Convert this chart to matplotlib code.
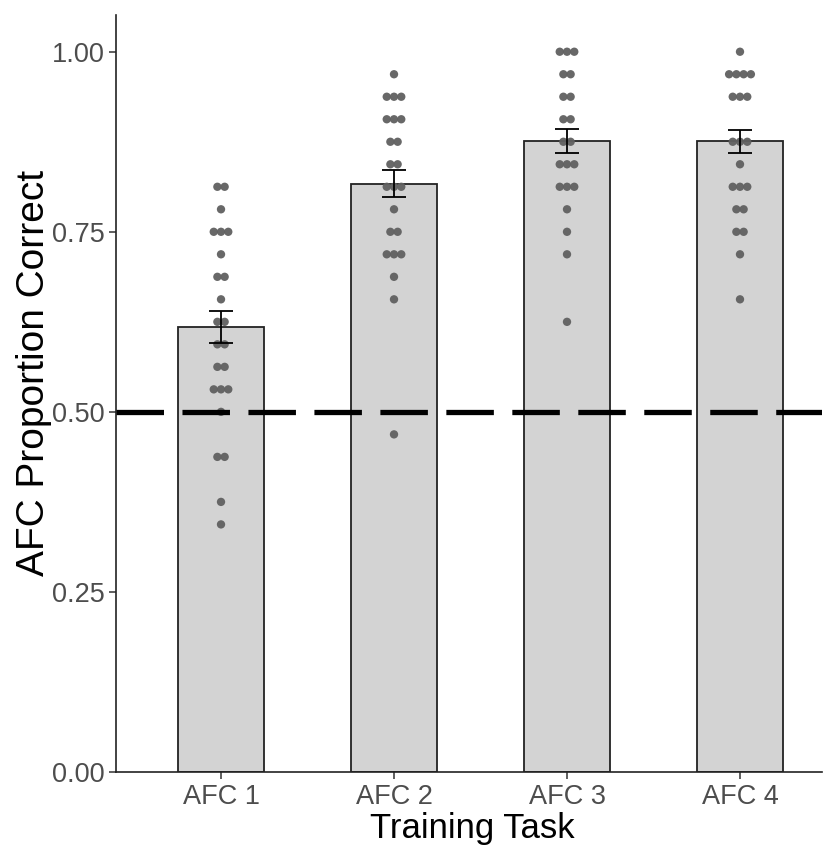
# AFC proportion correct by training task: mean bars, SE bars, per-subject dots
import numpy as np
import matplotlib.pyplot as plt

plt.rcParams["font.family"] = ["Liberation Sans", "DejaVu Sans"]

tasks = ["AFC 1", "AFC 2", "AFC 3", "AFC 4"]
n_trials = 32

# correct trials per participant (out of 32)
afc1_correct = [26, 26, 25, 24, 24, 24, 23, 22, 22, 21, 20, 20, 19, 19,
                18, 18, 17, 17, 17, 16, 14, 14, 12, 11]
afc2_correct = [31, 30, 30, 30, 29, 29, 29, 28, 28, 27, 27, 26, 26, 26,
                25, 24, 24, 23, 23, 23, 22, 21, 15]
afc3_correct = [32, 32, 32, 31, 31, 30, 30, 29, 29, 28, 28, 27, 27, 27,
                26, 26, 26, 25, 24, 23, 20]
afc4_correct = [32, 31, 31, 31, 31, 30, 30, 30, 28, 28, 28, 27, 26, 26,
                26, 25, 25, 24, 24, 23, 21]

mean_correct = [0.618, 0.817, 0.876, 0.876]
se_correct = [0.022, 0.019, 0.017, 0.016]
chance = 0.5

y_ticks = [0.0, 0.25, 0.5, 0.75, 1.0]

groups = [afc1_correct, afc2_correct, afc3_correct, afc4_correct]
x = np.arange(1, len(tasks) + 1)

W, H = 836, 851
fig = plt.figure(figsize=(W / 100, H / 100), dpi=100)
ax = fig.add_axes([116 / W, 1 - 772 / H, 706 / W, 757 / H])

ax.bar(x, mean_correct, width=0.5, color="#d3d3d3", edgecolor="#222222",
       linewidth=1.3, zorder=1)

# place tied values side by side (simple deterministic spread)
step = 0.042
for xi, counts in zip(x, groups):
    vals = np.array(counts) / n_trials
    xs = np.zeros(len(vals))
    for v in np.unique(vals):
        idx = np.where(vals == v)[0]
        xs[idx] = xi + (np.arange(len(idx)) - (len(idx) - 1) / 2) * step
    ax.scatter(xs, vals, s=36, color="#606060", edgecolors="none",
               alpha=0.95, zorder=2)

ax.errorbar(x, mean_correct, yerr=se_correct, fmt="none", ecolor="black",
            elinewidth=1.3, capsize=8.5, capthick=1.3, zorder=3)

ax.axhline(chance, color="black", linewidth=3.8, dashes=(9.0, 3.5), zorder=4)

ax.set_xlim(0.393, 4.474)
ax.set_ylim(0, 1.051)
ax.set_xticks(x)
ax.set_xticklabels(tasks)
ax.set_yticks(y_ticks)
ax.set_yticklabels(["%.2f" % t for t in y_ticks])

for side in ["top", "right"]:
    ax.spines[side].set_visible(False)
for side in ["left", "bottom"]:
    ax.spines[side].set_linewidth(1.2)
    ax.spines[side].set_color("#222222")

ax.tick_params(axis="both", length=5, width=1.1, color="#333333",
               labelcolor="#4d4d4d", labelsize=19.5)
ax.tick_params(axis="y", pad=3)
ax.tick_params(axis="x", pad=4)

# axis titles placed in figure pixels to match the reference
fig.text(472 / W, 1 - 838 / H, "Training Task", fontsize=25, color="black",
         ha="center", va="baseline")
fig.text(34 / W, 1 - 373 / H, "AFC Proportion Correct", fontsize=28,
         color="black", rotation=90, ha="center", va="center")

fig.savefig("out.png", dpi=100)
